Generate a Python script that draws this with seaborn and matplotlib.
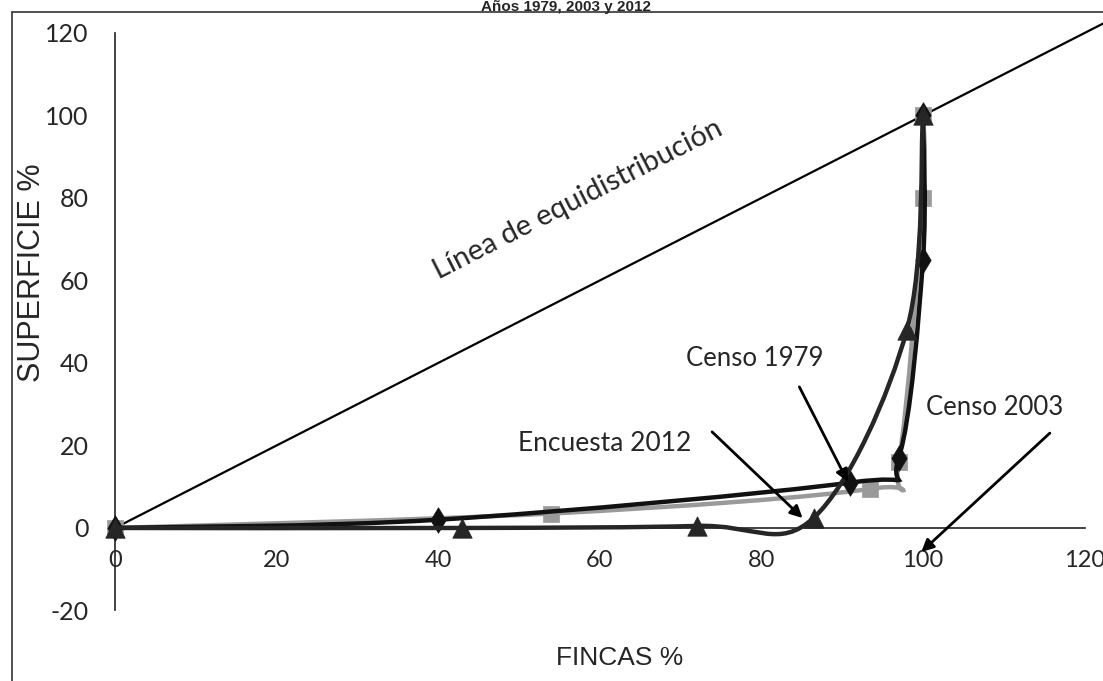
"""Curva de Lorenz de la tenencia de la tierra, 1979 / 2003 / 2012."""
import matplotlib
matplotlib.use('Agg')
import matplotlib.pyplot as plt
from matplotlib.path import Path
from matplotlib.patches import PathPatch
from matplotlib.lines import Line2D
import numpy as np
import pandas as pd
import seaborn as sns

# % acumulado de fincas (x) y de superficie (y)
fincas_1979 = [0, 40, 91, 97, 100, 100]
sup_1979 = [0, 2, 11, 17, 65, 100]
fincas_2003 = [0, 54, 93.5, 97, 100, 100]
sup_2003 = [0, 3.5, 9.5, 16, 80, 100]
fincas_2012 = [0, 43, 72, 86.5, 98, 100]
sup_2012 = [0, 0, 0.5, 2.5, 48, 100]
equi = [0, 125]

x_ticks = [0, 20, 40, 60, 80, 100, 120]
y_ticks = [-20, 0, 20, 40, 60, 80, 100, 120]

W, H = 1103, 681
sns.set_style('white')
plt.rcParams['font.family'] = ['Lato', 'DejaVu Sans']
plt.rcParams['axes.unicode_minus'] = False

fig = plt.figure(figsize=(W / 100, H / 100), dpi=100)
ax = fig.add_axes([0, 0, 1, 1])
ax.set_xlim(-14.23, 122.28)
ax.set_ylim(-37.1, 128.0)


def smooth_path(xs, ys):
    """Excel-like smoothed line: Catmull-Rom segments as cubic Beziers."""
    pts = np.column_stack([xs, ys]).astype(float)
    ext = np.vstack([pts[0], pts, pts[-1]])
    verts = [pts[0]]
    codes = [Path.MOVETO]
    for i in range(1, len(ext) - 2):
        p0, p1, p2, p3 = ext[i - 1], ext[i], ext[i + 1], ext[i + 2]
        verts += [p1 + (p2 - p0) / 6, p2 - (p3 - p1) / 6, p2]
        codes += [Path.CURVE4] * 3
    return Path(verts, codes)


# equidistribution line
sns.lineplot(x=equi, y=equi, ax=ax, color='black', lw=1.6, zorder=2)

series = [
    (fincas_2003, sup_2003, '#9a9a9a', 's', 11, 3),
    (fincas_1979, sup_1979, '#111111', 'd', 13, 4),
    (fincas_2012, sup_2012, '#262626', '^', 14, 5),
]
for xs, ys, col, mk, ms, z in series:
    ax.add_patch(PathPatch(smooth_path(xs, ys), fill=False, edgecolor=col,
                           lw=3.2, zorder=z))
    df = pd.DataFrame({'x': xs, 'y': ys})
    sns.scatterplot(data=df, x='x', y='y', ax=ax, marker=mk, s=ms ** 2,
                    color=col, edgecolor=col, linewidth=0.5, zorder=z)

# axes through the origin, Excel style
for s in ['top', 'right']:
    ax.spines[s].set_visible(False)
ax.spines['left'].set_position(('data', 0))
ax.spines['left'].set_bounds(-20, 120)
ax.spines['bottom'].set_position(('data', 0))
ax.spines['bottom'].set_bounds(0, 120)
for s in ['left', 'bottom']:
    ax.spines[s].set_color('#222222')
    ax.spines[s].set_linewidth(1.2)
ax.set_xticks(x_ticks)
ax.set_yticks(y_ticks)
ax.tick_params(axis='x', length=0, pad=16, labelsize=17)
ax.tick_params(axis='y', length=0, pad=19, labelsize=18)
ax.set_xlabel('')
ax.set_ylabel('')

# annotations
ax.text(57.3, 79.5, 'Línea de equidistribución', fontsize=21, rotation=27.0,
        rotation_mode='anchor', ha='center', va='center')
ax.text(79.2, 41.2, 'Censo 1979', fontsize=18.5, ha='center', va='center')
ax.text(60.6, 20.6, 'Encuesta 2012', fontsize=19, ha='center', va='center')
ax.text(108.9, 29.3, 'Censo 2003', fontsize=18.5, ha='center', va='center')
arrow = dict(arrowstyle='-|>', color='black', lw=2, mutation_scale=18,
             shrinkA=0, shrinkB=0)
ax.annotate('', xy=(90.7, 11.2), xytext=(84.7, 34.2), arrowprops=arrow, zorder=6)
ax.annotate('', xy=(85.1, 2.4), xytext=(73.9, 23.3), arrowprops=arrow, zorder=6)
ax.annotate('', xy=(99.8, -5.8), xytext=(115.7, 23.0), arrowprops=arrow, zorder=6)

# axis titles
fig.text(620 / W, 1 - 658 / H, 'FINCAS %', family='Liberation Sans',
         fontsize=19, ha='center', va='center')
fig.text(32 / W, 1 - 273 / H, 'SUPERFICIE %', family='Liberation Sans',
         fontsize=22, rotation=90, ha='center', va='center')

# chart title (sits right above the frame) and outer frame
fig.text(566 / W, 1 - 11 / H, 'Años 1979, 2003 y 2012', family='Liberation Sans',
         fontsize=11, weight='bold', ha='center', va='baseline')
fig.add_artist(Line2D([12 / W, 12 / W], [0, 1 - 12 / H], transform=fig.transFigure,
                      color='#333333', lw=1.2))
fig.add_artist(Line2D([12 / W, 1], [1 - 12 / H, 1 - 12 / H], transform=fig.transFigure,
                      color='#333333', lw=1.2))

fig.savefig('out.png', dpi=100)
